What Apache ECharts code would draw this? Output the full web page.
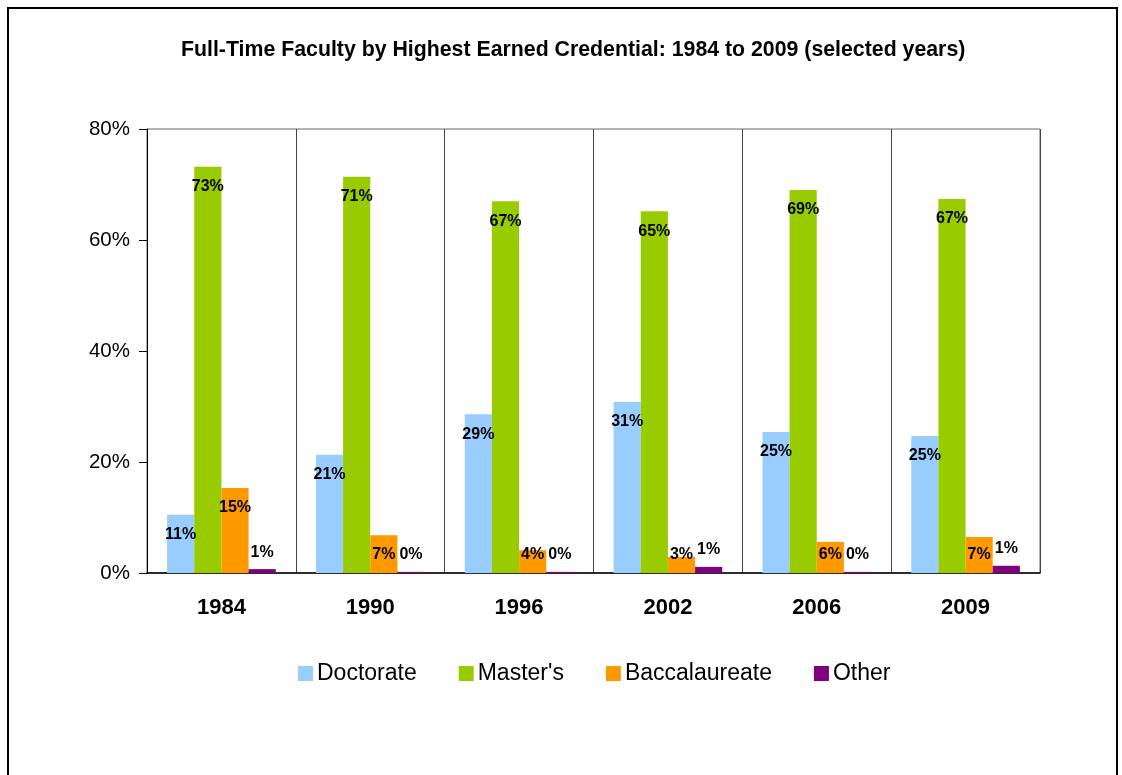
<!DOCTYPE html>
<html>
<head>
<meta charset="utf-8">
<script src="https://cdn.jsdelivr.net/npm/echarts@6/dist/echarts.min.js"></script>
<style>
html,body{margin:0;padding:0;background:#fff;}
#chart{width:1122px;height:775px;}
</style>
</head>
<body>
<div id="chart"></div>
<script>
const years = ['1984', '1990', '1996', '2002', '2006', '2009'];
const doctorate = [10.5, 21.3, 28.6, 30.8, 25.4, 24.7];
const masters = [73.2, 71.4, 67.0, 65.2, 69.0, 67.4];
const baccalaureate = [15.3, 6.8, 4.1, 2.9, 5.6, 6.5];
const other = [0.7, 0.2, 0.2, 1.1, 0.2, 1.3];
const seriesNames = ['Doctorate', "Master's", 'Baccalaureate', 'Other'];
const colors = ['#99CCFF', '#99CC00', '#FF9900', '#800080'];
const yTicks = [0, 20, 40, 60, 80];

const font = 'Arial, "Liberation Sans", sans-serif';
const chart = echarts.init(document.getElementById('chart'));

const labelBase = {
  show: true,
  color: '#000',
  fontFamily: font,
  fontWeight: 'bold',
  fontSize: 16,
  formatter: p => Math.round(p.value) + '%'
};

function mkSeries(name, data, color, isOther) {
  return {
    name: name,
    type: 'bar',
    barGap: '0%',
    barCategoryGap: '27%',
    itemStyle: { color: color },
    label: Object.assign({}, labelBase, isOther ? { position: 'top', distance: 9 } : { position: 'insideTop', distance: 12 }),
    data: data.map(v => {
      if (!isOther && v < 8) {
        return { value: v, label: { position: 'insideBottom', distance: 10 } };
      }
      return v;
    })
  };
}

chart.setOption({
  animation: false,
  backgroundColor: '#fff',
  color: colors,
  title: {
    text: 'Full-Time Faculty by Highest Earned Credential: 1984 to 2009 (selected years)',
    left: 176,
    top: 35,
    textStyle: { fontFamily: font, fontWeight: 'bold', fontSize: 21.3, color: '#000' }
  },
  graphic: [{
    type: 'rect',
    shape: { x: 8, y: 8, width: 1109, height: 800 },
    style: { fill: 'none', stroke: '#000', lineWidth: 2 },
    silent: true
  }],
  legend: {
    data: seriesNames,
    left: 293,
    top: 657,
    itemWidth: 15,
    itemHeight: 15,
    itemGap: 42,
    icon: 'rect',
    textStyle: { fontFamily: font, fontSize: 23, color: '#000', padding: [0, 0, 0, -1] }
  },
  grid: {
    left: 147, right: 82, top: 129, bottom: 202,
    show: true, borderColor: '#666', borderWidth: 1
  },
  xAxis: {
    type: 'category',
    data: years,
    axisLine: { lineStyle: { color: '#000', width: 1.5 } },
    axisTick: { show: false },
    splitLine: { show: true, lineStyle: { color: '#444', width: 1 } },
    axisLabel: { fontFamily: font, fontWeight: 'bold', fontSize: 22, color: '#000', margin: 24 }
  },
  yAxis: {
    type: 'value',
    min: yTicks[0],
    max: yTicks[yTicks.length - 1],
    interval: yTicks[1] - yTicks[0],
    axisLine: { show: true, lineStyle: { color: '#000', width: 1 } },
    axisTick: { show: true, length: 8, lineStyle: { color: '#000' } },
    splitLine: { show: false },
    axisLabel: { fontFamily: font, fontSize: 20.5, color: '#000', margin: 17, formatter: '{value}%' }
  },
  series: [
    mkSeries(seriesNames[0], doctorate, colors[0], false),
    mkSeries(seriesNames[1], masters, colors[1], false),
    mkSeries(seriesNames[2], baccalaureate, colors[2], false),
    mkSeries(seriesNames[3], other, colors[3], true)
  ]
});
</script>
</body>
</html>
